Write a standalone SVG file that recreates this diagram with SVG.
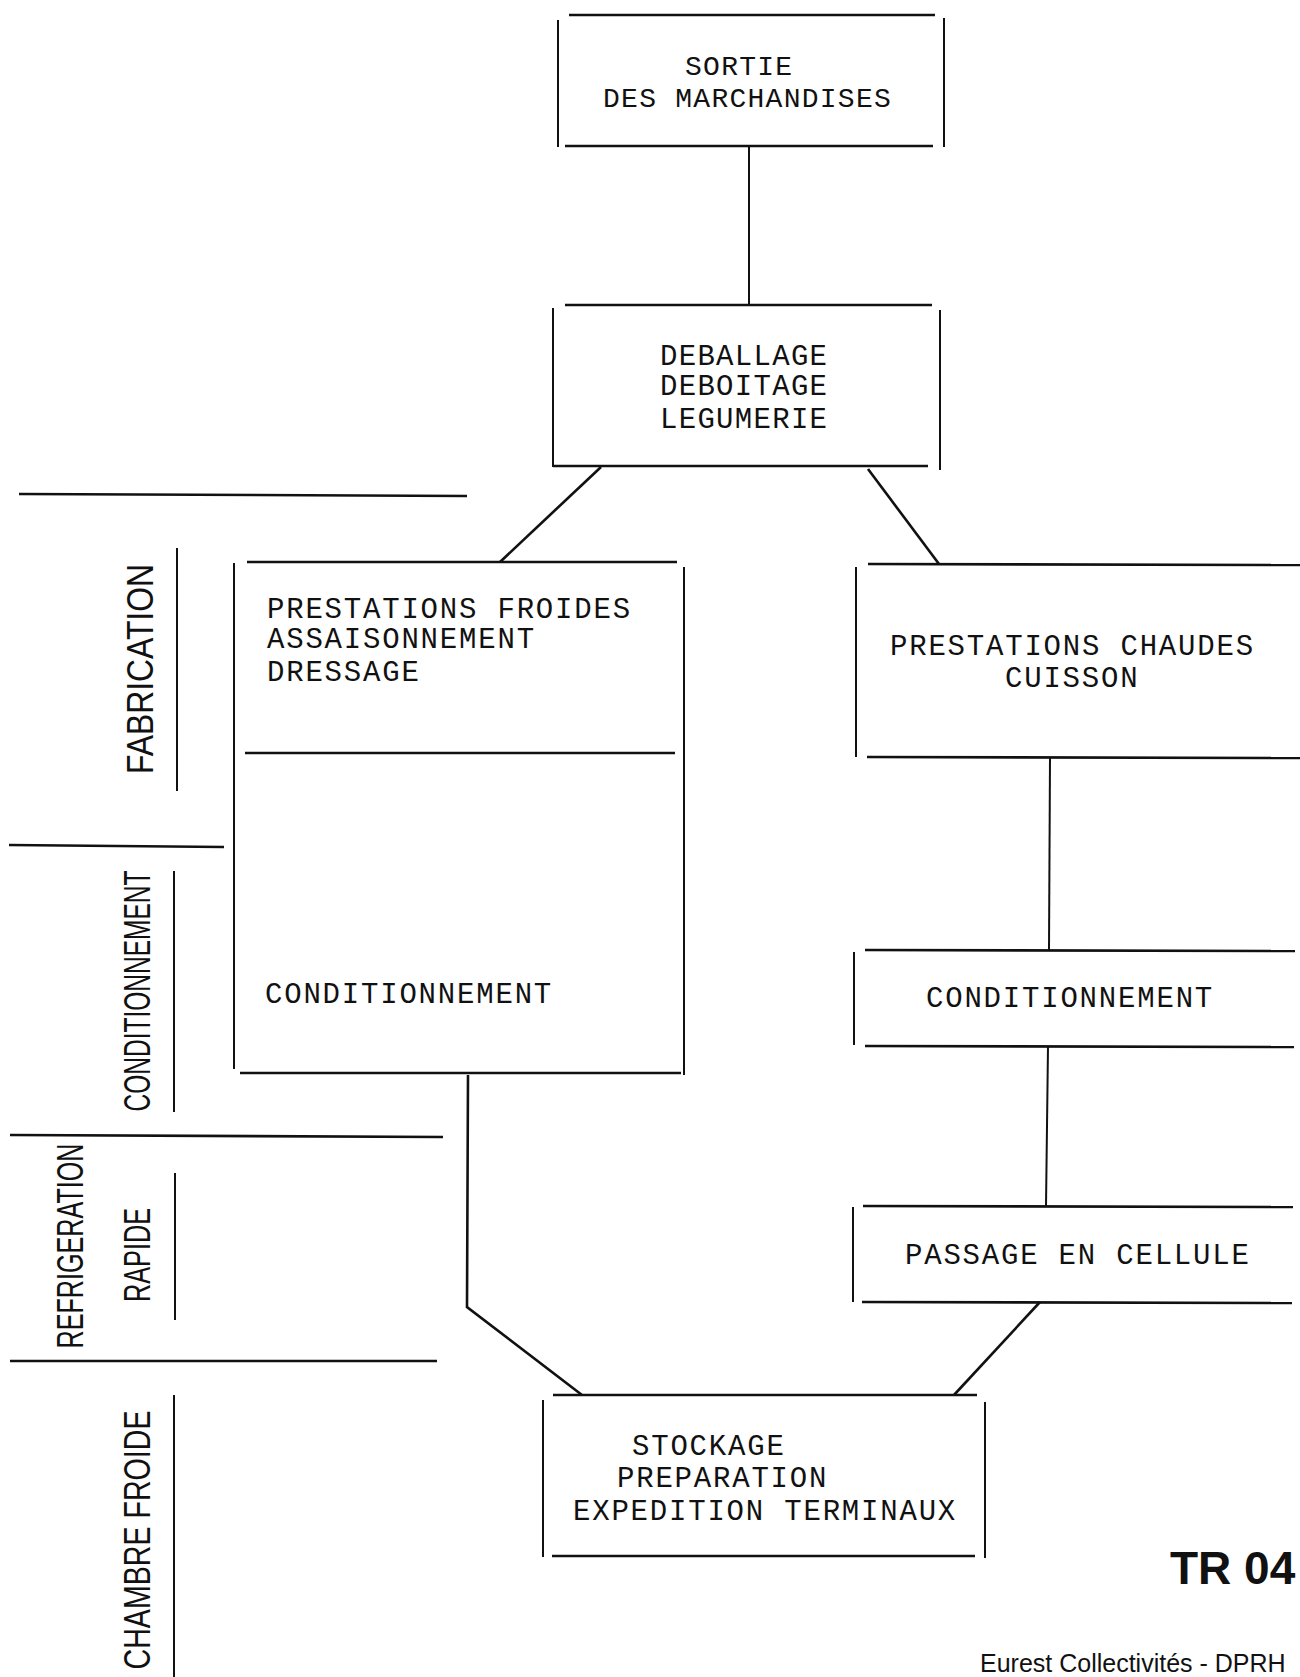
<svg xmlns="http://www.w3.org/2000/svg" width="1300" height="1677" viewBox="0 0 1300 1677">
<style>
.ln{stroke:#111;stroke-width:2.6;fill:none;stroke-linecap:butt}
.ln2{stroke:#111;stroke-width:2;fill:none}
.m{font-family:"Liberation Mono","Courier New",monospace;font-size:29px;letter-spacing:1.8px;fill:#111}
.m1{font-family:"Liberation Mono","Courier New",monospace;font-size:28px;letter-spacing:1.26px;fill:#111}
.m2{font-family:"Liberation Mono","Courier New",monospace;font-size:29px;letter-spacing:1.3px;fill:#111}
.v{font-family:"Liberation Sans","Arial",sans-serif;font-size:37px;fill:#111;text-anchor:middle}
.tr{font-family:"Liberation Sans","Arial",sans-serif;font-size:46px;font-weight:bold;fill:#111}
.ft{font-family:"Liberation Sans","Arial",sans-serif;font-size:25px;fill:#111}
</style>
<rect width="1300" height="1677" fill="#fff"/>

<g id="sections">
  <line class="ln" x1="19" y1="494" x2="467" y2="496"/>
  <line class="ln" x1="9" y1="845" x2="224" y2="847"/>
  <line class="ln" x1="10" y1="1135" x2="443" y2="1137"/>
  <line class="ln" x1="10" y1="1361" x2="437" y2="1361"/>
  <line class="ln2" x1="177" y1="548" x2="177" y2="791"/>
  <line class="ln2" x1="174" y1="871" x2="174" y2="1112"/>
  <line class="ln2" x1="175" y1="1173" x2="175" y2="1320"/>
  <line class="ln2" x1="174" y1="1395" x2="174" y2="1677"/>
  <text class="v" transform="translate(153,669) rotate(-90)" textLength="210" lengthAdjust="spacingAndGlyphs">FABRICATION</text>
  <text class="v" transform="translate(150,991) rotate(-90)" textLength="241" lengthAdjust="spacingAndGlyphs">CONDITIONNEMENT</text>
  <text class="v" transform="translate(83,1246) rotate(-90)" textLength="205" lengthAdjust="spacingAndGlyphs">REFRIGERATION</text>
  <text class="v" transform="translate(150,1255) rotate(-90)" textLength="94" lengthAdjust="spacingAndGlyphs">RAPIDE</text>
  <text class="v" transform="translate(150,1540) rotate(-90)" textLength="259" lengthAdjust="spacingAndGlyphs">CHAMBRE FROIDE</text>
</g>

<g id="connectors">
  <line class="ln2" x1="749" y1="147" x2="749" y2="305"/>
  <line class="ln" x1="601" y1="467" x2="500" y2="562"/>
  <line class="ln" x1="868" y1="469" x2="939" y2="564"/>
  <line class="ln2" x1="1050" y1="758" x2="1049" y2="950"/>
  <line class="ln2" x1="1048" y1="1046" x2="1046" y2="1206"/>
  <polyline class="ln" points="468,1075 467,1307 582,1395"/>
  <line class="ln" x1="1040" y1="1302" x2="954" y2="1395"/>
</g>

<g id="node-sortie">
  <line class="ln" x1="569" y1="15" x2="935" y2="15"/>
  <line class="ln" x1="565" y1="146" x2="933" y2="146"/>
  <line class="ln2" x1="558" y1="20" x2="558" y2="147"/>
  <line class="ln2" x1="944" y1="18" x2="944" y2="147"/>
  <text class="m1" x="685" y="75">SORTIE</text>
  <text class="m1" x="603" y="107">DES MARCHANDISES</text>
</g>

<g id="node-deballage">
  <line class="ln" x1="565" y1="305" x2="932" y2="305"/>
  <line class="ln" x1="553" y1="466" x2="928" y2="466"/>
  <line class="ln2" x1="553" y1="308" x2="553" y2="467"/>
  <line class="ln2" x1="940" y1="310" x2="940" y2="470"/>
  <text class="m2" x="660" y="365">DEBALLAGE</text>
  <text class="m2" x="660" y="395">DEBOITAGE</text>
  <text class="m2" x="660" y="428">LEGUMERIE</text>
</g>

<g id="node-froides">
  <line class="ln" x1="247" y1="562" x2="677" y2="562"/>
  <line class="ln" x1="245" y1="753" x2="675" y2="753"/>
  <line class="ln" x1="240" y1="1073" x2="681" y2="1073"/>
  <line class="ln2" x1="234" y1="563" x2="234" y2="1069"/>
  <line class="ln2" x1="684" y1="567" x2="684" y2="1075"/>
  <text class="m" x="267" y="618">PRESTATIONS FROIDES</text>
  <text class="m" x="267" y="648">ASSAISONNEMENT</text>
  <text class="m" x="267" y="681">DRESSAGE</text>
  <text class="m" x="265" y="1003">CONDITIONNEMENT</text>
</g>

<g id="node-chaudes">
  <line class="ln" x1="868" y1="564" x2="1300" y2="565"/>
  <line class="ln" x1="867" y1="757" x2="1300" y2="758"/>
  <line class="ln2" x1="856" y1="567" x2="856" y2="757"/>
  <text class="m" x="890" y="655">PRESTATIONS CHAUDES</text>
  <text class="m" x="1005" y="687">CUISSON</text>
</g>

<g id="node-conditionnement">
  <line class="ln" x1="865" y1="950" x2="1295" y2="951"/>
  <line class="ln" x1="865" y1="1046" x2="1294" y2="1047"/>
  <line class="ln2" x1="854" y1="952" x2="854" y2="1045"/>
  <text class="m" x="926" y="1007">CONDITIONNEMENT</text>
</g>

<g id="node-passage">
  <line class="ln" x1="863" y1="1206" x2="1293" y2="1207"/>
  <line class="ln" x1="862" y1="1302" x2="1292" y2="1303"/>
  <line class="ln2" x1="853" y1="1207" x2="853" y2="1302"/>
  <text class="m" x="905" y="1264">PASSAGE EN CELLULE</text>
</g>

<g id="node-stockage">
  <line class="ln" x1="553" y1="1395" x2="977" y2="1395"/>
  <line class="ln" x1="552" y1="1556" x2="975" y2="1556"/>
  <line class="ln2" x1="543" y1="1400" x2="543" y2="1557"/>
  <line class="ln2" x1="985" y1="1402" x2="985" y2="1558"/>
  <text class="m" x="632" y="1455">STOCKAGE</text>
  <text class="m" x="617" y="1487">PREPARATION</text>
  <text class="m" x="573" y="1520">EXPEDITION TERMINAUX</text>
</g>

<g id="labels">
  <text class="tr" x="1170" y="1584">TR 04</text>
  <text class="ft" x="980" y="1672">Eurest Collectivités - DPRH</text>
</g>
</svg>
